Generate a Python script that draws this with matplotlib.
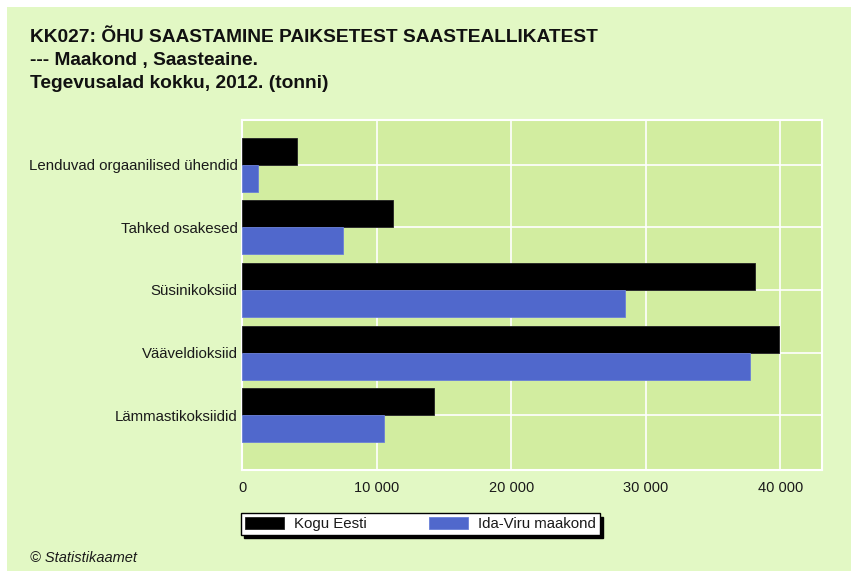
import numpy as np
import matplotlib
matplotlib.use('Agg')
import matplotlib.pyplot as plt
from matplotlib.patches import Rectangle
from matplotlib.ticker import FuncFormatter

plt.rcParams['font.family'] = ['Liberation Sans', 'DejaVu Sans']

# andmed (tonni)
categories = ['Lenduvad orgaanilised ühendid', 'Tahked osakesed', 'Süsinikoksiid',
              'Vääveldioksiid', 'Lämmastikoksiidid']
kogu_eesti = [4090, 11230, 38140, 39930, 14280]
ida_viru = [1190, 7510, 28480, 37770, 10560]
series_names = ['Kogu Eesti', 'Ida-Viru maakond']

panel_bg = '#e2f8c4'
plot_bg = '#d2eda0'
blue = '#5068cc'
txt = '#1a1a1a'

fig = plt.figure(figsize=(8.51, 5.71), dpi=100, facecolor='white')
# heleroheline taust, valge äär üleval ja vasakul
fig.patches.append(Rectangle((7 / 851, 0), 1, 1 - 7 / 571, transform=fig.transFigure,
                             facecolor=panel_bg, edgecolor='none', zorder=-10))

ax = fig.add_axes([242 / 851, 1 - 470 / 571, 580 / 851, 350 / 571])
ax.set_facecolor(plot_bg)

y = np.arange(len(categories))
h = 0.43
ax.barh(y - h / 2, kogu_eesti, height=h, color='black', edgecolor='#222222',
        linewidth=0.6, label=series_names[0], zorder=3)
ax.barh(y + h / 2, ida_viru, height=h, color=blue, edgecolor='#6a80d8',
        linewidth=0.6, label=series_names[1], zorder=3)

ax.set_xlim(0, 43100)
ax.set_ylim(len(categories) - 1 + 0.87, -0.71)
ax.set_yticks(y)
ax.set_yticklabels(categories, fontsize=10.8, color=txt)
ax.set_xticks([0, 10000, 20000, 30000, 40000])
ax.xaxis.set_major_formatter(FuncFormatter(lambda v, p: f'{int(v):,}'.replace(',', ' ')))
ax.tick_params(axis='x', labelsize=10.5, colors=txt, length=0, pad=8)
ax.tick_params(axis='y', length=0, pad=3)
ax.grid(True, color='white', linewidth=1.2, zorder=1)
for s in ax.spines.values():
    s.set_color('white')
    s.set_linewidth(1.5)

title_lines = ['KK027: ÕHU SAASTAMINE PAIKSETEST SAASTEALLIKATEST',
               '--- Maakond , Saasteaine.',
               'Tegevusalad kokku, 2012. (tonni)']
for i, line in enumerate(title_lines):
    fig.text(30 / 851, 1 - (38 + 23 * i) / 571, line, fontsize=13.8, fontweight='bold',
             va='center', ha='left', color='#111111')

leg = fig.legend(loc='center left', bbox_to_anchor=(241 / 851, 1 - 524 / 571), ncol=2,
                 fontsize=10.8, frameon=True, fancybox=False, framealpha=1,
                 edgecolor='black', borderpad=0.25, borderaxespad=0,
                 handlelength=2.6, handleheight=0.8,
                 columnspacing=4.2, handletextpad=0.65,
                 shadow={'color': 'black', 'alpha': 1, 'ox': 2.5, 'oy': -2.5})
leg.get_frame().set_linewidth(1.0)
for t in leg.get_texts():
    t.set_color(txt)

fig.text(30 / 851, 1 - 558 / 571, '© Statistikaamet', fontsize=10.5, style='italic',
         va='center', ha='left', color=txt)

plt.savefig('out.png', dpi=100, facecolor=fig.get_facecolor())
